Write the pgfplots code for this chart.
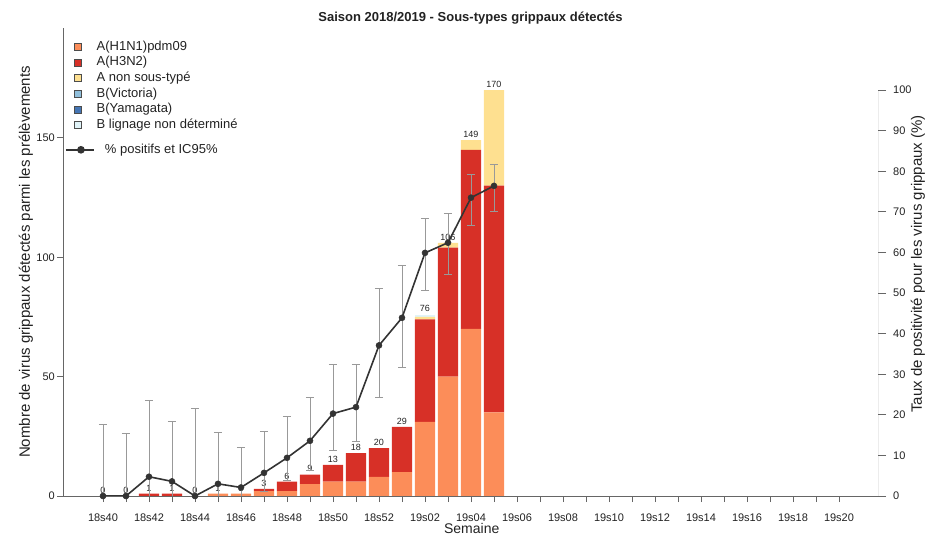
\documentclass[border=0pt]{standalone}
\usepackage{fontspec}
\setmainfont{Liberation Sans}
\usepackage{pgfplots}
\pgfplotsset{compat=1.18}
\usepackage{pgfplotstable}

\definecolor{cH1}{HTML}{FC8D59}
\definecolor{cH3}{HTML}{D73027}
\definecolor{cAn}{HTML}{FEE090}
\definecolor{cBv}{HTML}{91BFDB}
\definecolor{cBy}{HTML}{4575B4}
\definecolor{cBl}{HTML}{E0F3F8}
\definecolor{cLine}{HTML}{333333}
\definecolor{cErr}{HTML}{999999}
\definecolor{cAxis}{HTML}{666666}
\definecolor{cText}{HTML}{222222}

% week index: 0 = 18s40 ... 12 = 18s52, 13 = 19s01 ...
\pgfplotstableread{
x h1 h3 anst blnd total
0 0 0 0 0 0
1 0 0 0 0 0
2 0 1 0 0 1
3 0 1 0 0 1
4 0 0 0 0 0
5 1 0 0 0 1
6 1 0 0 0 1
7 2 1 0 0 3
8 2 4 0 0 6
9 5 4 0 0 9
10 6 7 0 0 13
11 6 12 0 0 18
12 8 12 0 0 20
13 10 19 0 0 29
14 31 43 1 1 76
15 50 54 2 0 106
16 70 75 4 0 149
17 35 95 40 0 170
}\bars

% percent positive, error plus, error minus (IC95)
\pgfplotstableread{
x y ep em
0 0 17.7 0
1 0 15.4 0
2 4.75 18.85 4.75
3 3.6 14.7 3.6
4 0 21.6 0
5 3.0 12.6 3.0
6 2.1 9.9 2.1
7 5.7 10.1 4.5
8 9.4 10.3 5.5
9 13.6 10.7 7.2
10 20.3 12.0 9.2
11 21.9 10.5 8.4
12 37.1 14.1 12.7
13 43.9 12.8 12.2
14 59.9 8.6 9.2
15 62.4 7.2 7.7
16 73.5 5.6 6.8
17 76.4 5.2 6.4
}\pct

\begin{document}
\begin{tikzpicture}
\begin{axis}[
  at={(63bp,39bp)}, anchor=south west,
  width=815bp, height=468bp, scale only axis,
  xmin=-1.739, xmax=33.696, ymin=0, ymax=196,
  axis x line*=bottom, axis y line*=left,
  axis line style={cAxis, line width=0.8bp},
  tick style={cAxis, line width=0.8bp},
  tick align=outside, major tick length=6bp,
  xtick={0,...,32},
  xticklabels={18s40,,18s42,,18s44,,18s46,,18s48,,18s50,,18s52,,19s02,,19s04,,19s06,,19s08,,19s10,,19s12,,19s14,,19s16,,19s18,,19s20},
  ytick={0,50,100,150},
  /pgf/number format/assume math mode=true,
  tick label style={font=\fontsize{11bp}{13bp}\selectfont, text=cText},
  xticklabel style={anchor=base, inner sep=0pt, yshift=-19.7bp},
  yticklabel style={anchor=east, inner sep=0pt, xshift=-2bp},
  xlabel={Semaine},
  xlabel style={at={(axis description cs:0.5015,-0.0801)}, anchor=base, font=\fontsize{14bp}{16bp}\selectfont, text=cText, inner sep=0pt},
  ylabel={Nombre de virus grippaux détectés parmi les prélèvements},
  ylabel style={at={(axis description cs:-0.0454,0.5)}, anchor=center, font=\fontsize{15bp}{17bp}\selectfont, text=cText, inner sep=0pt},
  title={Saison 2018/2019 - Sous-types grippaux détectés},
  title style={at={(axis description cs:0.5,1.0013)}, anchor=base, font=\bfseries\fontsize{13bp}{15bp}\selectfont, text=cText, inner sep=0pt},
  ybar stacked, bar width=0.87,
  axis on top,
  legend style={at={(axis description cs:0.01325,0.976)}, anchor=north west, draw=none, fill=none, inner sep=0pt, outer sep=0pt, font=\fontsize{13bp}{15bp}\selectfont, text=cText, column sep=13.4bp, row sep=0pt, nodes={inner sep=1.8bp, text height=9.3bp, text depth=2.7bp}},
  legend cell align=left,
]
\addplot[fill=cH1, draw=none, forget plot] table[x=x, y=h1] \bars;
\addplot[fill=cH3, draw=none, forget plot] table[x=x, y=h3] \bars;
\addplot[fill=cAn, draw=none, forget plot] table[x=x, y=anst] \bars;
\addplot[fill=cBl, draw=none, forget plot] table[x=x, y=blnd] \bars;

\addlegendimage{legend image code/.code={\draw[fill=cH1, draw=black!70, line width=0.7bp] (0bp,-3.5bp) rectangle (7bp,3.5bp);}}
\addlegendentry{A(H1N1)pdm09}
\addlegendimage{legend image code/.code={\draw[fill=cH3, draw=black!70, line width=0.7bp] (0bp,-3.5bp) rectangle (7bp,3.5bp);}}
\addlegendentry{A(H3N2)}
\addlegendimage{legend image code/.code={\draw[fill=cAn, draw=black!70, line width=0.7bp] (0bp,-3.5bp) rectangle (7bp,3.5bp);}}
\addlegendentry{A non sous-typé}
\addlegendimage{legend image code/.code={\draw[fill=cBv, draw=black!70, line width=0.7bp] (0bp,-3.5bp) rectangle (7bp,3.5bp);}}
\addlegendentry{B(Victoria)}
\addlegendimage{legend image code/.code={\draw[fill=cBy, draw=black!70, line width=0.7bp] (0bp,-3.5bp) rectangle (7bp,3.5bp);}}
\addlegendentry{B(Yamagata)}
\addlegendimage{legend image code/.code={\draw[fill=cBl, draw=black!70, line width=0.7bp] (0bp,-3.5bp) rectangle (7bp,3.5bp);}}
\addlegendentry{B lignage non déterminé}
\end{axis}

% totals above the bars (same scale as the bar axis)
\begin{axis}[
  at={(63bp,39bp)}, anchor=south west,
  width=815bp, height=468bp, scale only axis,
  xmin=-1.739, xmax=33.696, ymin=0, ymax=196,
  hide axis, clip=false,
  /pgf/number format/assume math mode=true,
]
\addplot[draw=none, mark=none, nodes near coords, point meta=explicit,
  every node near coord/.append style={font=\fontsize{9bp}{10bp}\selectfont, anchor=south, inner sep=0pt, yshift=2.3bp, text=cText}]
  table[x=x, y=total, meta=total] \bars;
\end{axis}

\begin{axis}[
  at={(63bp,39bp)}, anchor=south west,
  width=815bp, height=468bp, scale only axis,
  xmin=-1.739, xmax=33.696, ymin=0, ymax=115.3,
  axis x line=none, axis y line*=right,
  y axis line style={draw=none},
  tick style={cAxis, line width=0.8bp},
  tick align=outside, major tick length=8bp,
  ytick={0,10,...,100},
  /pgf/number format/assume math mode=true,
  tick label style={font=\fontsize{11bp}{13bp}\selectfont, text=cText},
  yticklabel style={anchor=west, inner sep=0pt, xshift=7bp},
  ylabel={Taux de positivité pour les virus grippaux (\%)},
  ylabel style={at={(axis description cs:1.0491,0.4957)}, anchor=center, font=\fontsize{15bp}{17bp}\selectfont, text=cText, inner sep=0pt},
  legend style={at={(axis description cs:0.0027,0.7564)}, anchor=north west, draw=none, fill=none, inner sep=0pt, outer sep=0pt, font=\fontsize{13bp}{15bp}\selectfont, text=cText, column sep=8.4bp, nodes={inner sep=1.8bp, text height=9.3bp, text depth=2.7bp}},
  legend cell align=left,
]
\draw[cAxis, line width=0.8bp] (rel axis cs:1,0) -- (axis cs:33.696,100);
\addplot[draw=none, mark=none, forget plot,
  error bars/.cd, y dir=both, y explicit,
  error bar style={cErr, line width=0.9bp},
  error mark options={rotate=90, mark size=4bp, cErr, line width=0.9bp}]
  table[x=x, y=y, y error plus=ep, y error minus=em] \pct;
\addplot[cLine, line width=1.6bp, mark=*, mark size=3bp, mark options={fill=cLine, draw=cLine, line width=0.5bp},
  legend image code/.code={\draw[cLine, line width=1.5bp] (0bp,0bp) -- (28bp,0bp); \fill[cLine] (15bp,0bp) circle (3bp);}]
  table[x=x, y=y] \pct;
\addlegendentry{\% positifs et IC95\%}
\end{axis}
\pgfresetboundingbox
\path (0,0) rectangle (939bp,535bp);
\end{tikzpicture}
\end{document}
